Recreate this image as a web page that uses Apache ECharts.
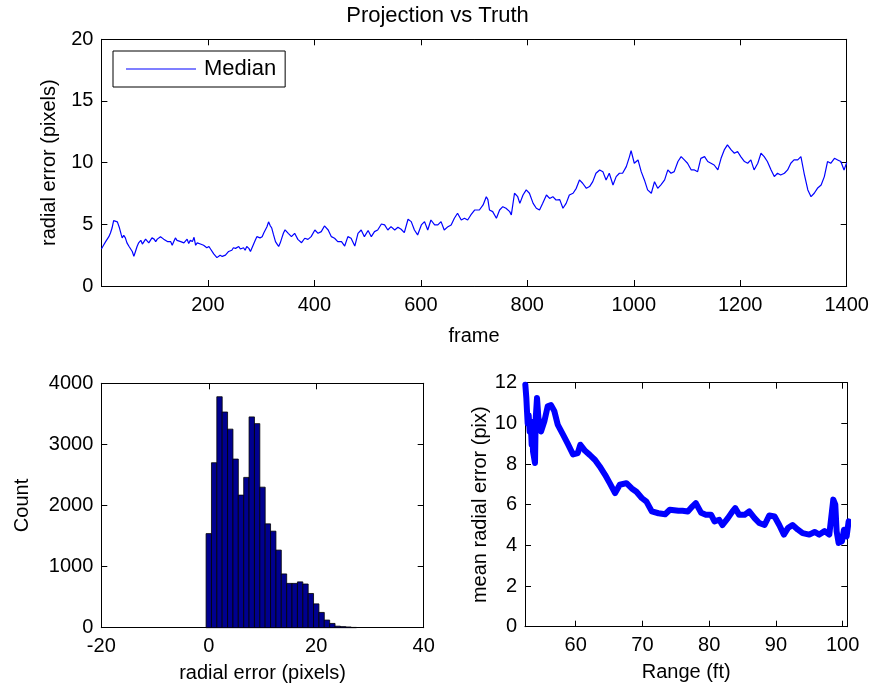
<!DOCTYPE html>
<html><head><meta charset="utf-8">
<script src="https://cdn.jsdelivr.net/npm/echarts@6/dist/echarts.min.js"></script>
<style>html,body{margin:0;padding:0;background:#fff}#c{width:875px;height:693px}</style>
</head><body><div id="c"></div>
<script>
const titleText = 'Projection vs Truth';
const legendName = 'Median';

// top: median radial error per frame
const medianFrames = [0,4,8,11,14,17,20,23,26,30,34,37,39,42,45,48,52,55,58,61,64,67,70,74,77,80,83,86,89,92,95,99,102,105,108,111,114,117,120,124,127,130,133,136,139,142,145,149,152,155,158,161,164,167,171,174,177,180,183,186,189,192,195,198,202,205,208,211,214,217,220,223,227,230,233,236,239,242,245,248,252,255,258,261,264,267,270,273,277,280,283,286,289,292,295,298,302,305,308,311,314,317,320,323,327,330,333,336,339,342,345,348,
351,357,363,369,376,382,388,394,401,407,413,419,426,432,438,444,451,457,463,469,476,482,488,494,501,507,513,519,526,532,538,544,551,557,563,569,576,582,588,594,601,607,613,619,626,632,638,644,651,657,663,669,676,682,688,694,701,
704,710,717,723,726,729,735,742,748,754,760,767,770,776,782,786,792,798,804,811,817,823,829,836,842,848,854,861,867,873,879,886,892,898,904,911,917,923,929,936,942,948,954,961,967,973,979,986,992,995,1001,1008,1014,1020,1026,1033,1039,
1045,1051,1058,1064,1070,1076,1083,1089,1095,1101,1108,1114,1120,1126,1133,1139,1145,1151,1158,1164,1170,1176,1183,1189,1195,1201,1208,1214,1220,1226,1233,1239,1245,1251,1258,1264,1270,1276,1283,1289,1295,1301,1308,1314,1320,1327,1333,1339,1345,1352,1358,1364,1370,1377,1383,1389,1395,1400];
const medianValues = [3.0,3.3,3.6,3.8,4.0,4.3,4.7,5.3,5.2,5.2,4.7,4.2,3.9,4.1,3.9,3.5,3.2,3.0,2.8,2.4,2.8,3.2,3.5,3.7,3.4,3.5,3.8,3.7,3.5,3.6,3.9,3.8,3.6,3.8,3.7,4.0,3.95,3.8,3.7,3.6,3.45,3.6,3.3,3.6,3.9,3.7,3.8,3.6,3.75,3.5,3.6,3.8,3.45,3.7,3.6,3.95,3.3,3.5,3.6,3.4,3.5,3.3,3.35,3.1,3.2,3.0,2.9,2.6,2.5,2.3,2.2,2.5,2.4,2.3,2.5,2.6,2.8,2.7,2.9,3.1,3.05,2.9,3.2,3.0,2.9,3.1,2.9,3.2,3.05,2.8,2.95,3.4,3.7,4.0,4.15,3.9,4.0,4.3,4.4,4.8,5.2,4.9,4.7,4.2,3.6,3.4,3.2,3.5,3.9,4.3,4.55,4.4,
4.27,4.0,4.27,3.78,3.51,3.87,3.78,4.0,4.54,4.27,4.41,4.87,4.54,4.0,3.87,3.6,3.6,3.24,4.0,3.87,3.24,4.27,4.54,4.0,4.5,4.0,4.41,4.54,5.03,4.95,4.54,4.81,4.54,4.76,4.6,4.32,5.41,5.22,4.54,4.14,4.95,5.22,4.54,5.35,4.95,4.95,5.22,4.54,4.81,4.95,5.49,5.9,5.35,5.49,5.35,5.76,6.16,
6.03,6.16,6.57,7.24,7.0,6.16,6.03,5.49,6.16,6.43,6.3,6.03,5.76,7.52,7.24,6.7,7.38,7.79,7.52,6.7,6.3,6.16,6.7,7.38,7.1,7.24,6.97,7.0,6.3,6.7,7.38,7.52,7.92,8.6,8.33,7.92,8.06,8.46,9.14,9.41,9.27,8.6,9.14,8.19,8.87,9.14,9.14,9.68,10.49,10.97,9.95,10.22,9.27,8.6,7.79,7.52,8.46,
7.92,8.2,8.6,9.41,9.14,9.27,10.09,10.49,10.22,9.95,9.41,9.41,9.27,10.35,10.49,10.09,9.95,9.81,9.41,10.35,11.03,11.44,11.03,10.76,10.9,10.49,10.09,9.95,10.22,9.41,9.95,10.76,10.49,10.09,9.41,8.87,9.14,9.0,9.14,9.41,9.95,10.22,10.22,10.49,9.14,7.79,7.24,7.52,7.92,8.19,8.87,10.09,9.95,10.35,10.22,10.09,9.41,10.0];

// bottom-left: histogram of radial error (bin centers, width 1)
const histCenters = [0,1,2,3,4,5,6,7,8,9,10,11,12,13,14,15,16,17,18,19,20,21,22,23,24,25,26,27];
const histCounts = [1540,2700,3780,3530,3250,2760,2170,2460,3450,3340,2300,1700,1580,1270,880,725,725,750,715,560,390,250,125,70,25,18,12,5];

// bottom-right: mean radial error vs range
const rangeFt = [52.45,52.6,52.7,52.8,52.95,53.1,53.25,53.4,53.5,53.6,53.9,54.0,54.2,54.4,54.8,55.3,55.8,56.3,56.8,57.3,58.1,58.8,59.6,60.3,60.7,61.4,62.1,62.9,63.6,64.4,65.1,65.9,66.6,67.6,68.4,69.1,69.9,70.6,71.4,72.4,73.4,74.1,75.4,76.0,76.8,77.5,78.0,78.8,79.5,80.3,80.8,81.5,82.0,82.8,83.5,83.9,84.5,85.3,86.0,86.8,87.5,88.3,89.0,89.8,90.5,91.2,91.8,92.5,93.3,94.0,95.0,95.8,96.5,97.3,98.0,98.4,98.6,98.9,99.1,99.4,99.9,100.2,100.6,100.9];
const meanErr = [11.9,11.25,10.6,10.0,10.4,9.6,10.1,8.95,9.77,8.62,8.05,10.2,11.25,10.3,9.6,10.1,10.84,10.9,10.6,9.94,9.45,9.0,8.47,8.54,8.95,8.65,8.45,8.2,7.88,7.47,7.06,6.57,6.98,7.06,6.8,6.64,6.33,6.15,5.67,5.58,5.53,5.75,5.7,5.7,5.67,5.92,6.08,5.6,5.5,5.5,5.18,5.26,5.0,5.34,5.67,5.83,5.5,5.5,5.67,5.34,5.1,5.0,5.47,5.42,5.0,4.53,4.85,5.0,4.77,4.6,4.53,4.66,4.53,4.7,4.53,5.67,6.25,6.0,4.7,4.12,4.2,4.77,4.44,5.18];

const FONT = "'Liberation Sans', Arial, Helvetica, sans-serif";
const BLACK = '#000';
const plain = v => String(v);

function xAx(gi, opt) {
  return Object.assign({
    type: 'value', gridIndex: gi, position: 'bottom',
    axisLine: {show: true, onZero: false, lineStyle: {color: BLACK, width: 1}},
    axisTick: {show: true, inside: true, length: 6, lineStyle: {color: BLACK}},
    axisLabel: {color: BLACK, fontSize: 20, fontFamily: FONT, margin: 9, formatter: plain},
    splitLine: {show: false},
    nameLocation: 'middle',
    nameTextStyle: {color: BLACK, fontSize: 20, fontFamily: FONT}
  }, opt);
}
function yAx(gi, opt) {
  return Object.assign({
    type: 'value', gridIndex: gi, position: 'left',
    axisLine: {show: true, onZero: false, lineStyle: {color: BLACK, width: 1}},
    axisTick: {show: true, inside: true, length: 6, lineStyle: {color: BLACK}},
    axisLabel: {color: BLACK, fontSize: 20, fontFamily: FONT, margin: 8, formatter: plain},
    splitLine: {show: false},
    nameLocation: 'middle',
    nameTextStyle: {color: BLACK, fontSize: 20, fontFamily: FONT}
  }, opt);
}
function mirrorX(gi, min, max, ticks, interval) {
  const o = xAx(gi, {position: 'top', min: min, max: max, axisLabel: {show: false}});
  if (interval) o.interval = interval;
  if (ticks) o.axisTick = Object.assign({}, o.axisTick, {customValues: ticks});
  return o;
}
function mirrorY(gi, min, max, interval) {
  return yAx(gi, {position: 'right', min: min, max: max, interval: interval, axisLabel: {show: false}});
}

const topTicks = [200,400,600,800,1000,1200,1400];
const rangeTicks = [60,70,80,90,100];

const chart = echarts.init(document.getElementById('c'), null, {renderer: 'canvas'});
chart.setOption({
  animation: false,
  backgroundColor: '#fff',
  title: {text: titleText, left: 'center', top: 0,
    textStyle: {fontSize: 22, fontWeight: 'normal', color: BLACK, fontFamily: FONT}},
  legend: {
    data: [{name: legendName, icon: 'rect'}], left: 113, top: 51,
    backgroundColor: '#fff', borderColor: BLACK, borderWidth: 1,
    padding: [7, 9, 7, 13], itemWidth: 70, itemHeight: 1.2,
    itemStyle: {color: '#0000ff', borderWidth: 0},
    textStyle: {fontSize: 22, color: BLACK, fontFamily: FONT, padding: [0,0,0,3]}
  },
  grid: [
    {left: 101.4, top: 39.3, width: 745.3, height: 246.7},
    {left: 101.3, top: 383.3, width: 322.4, height: 244.4},
    {left: 525, top: 382.7, width: 322.3, height: 244}
  ],
  xAxis: [
    xAx(0, {min: 0, max: 1400, name: 'frame', nameGap: 40,
      axisTick: {show: true, inside: true, length: 6, lineStyle: {color: BLACK}, customValues: topTicks},
      axisLabel: {color: BLACK, fontSize: 20, fontFamily: FONT, margin: 9, customValues: topTicks, formatter: plain}}),
    xAx(1, {min: -20, max: 40, interval: 20, name: 'radial error (pixels)', nameGap: 36}),
    xAx(2, {min: 52.4, max: 100.7, name: 'Range (ft)', nameGap: 36,
      axisTick: {show: true, inside: true, length: 6, lineStyle: {color: BLACK}, customValues: rangeTicks},
      axisLabel: {color: BLACK, fontSize: 20, fontFamily: FONT, margin: 9, customValues: rangeTicks, formatter: plain}}),
    mirrorX(0, 0, 1400, topTicks),
    mirrorX(1, -20, 40, null, 20),
    mirrorX(2, 52.4, 100.7, rangeTicks)
  ],
  yAxis: [
    yAx(0, {min: 0, max: 20, interval: 5, name: 'radial error (pixels)', nameGap: 42}),
    yAx(1, {min: 0, max: 4000, interval: 1000, name: 'Count', nameGap: 69}),
    yAx(2, {min: 0, max: 12, interval: 2, name: 'mean radial error (pix)', nameGap: 18}),
    mirrorY(0, 0, 20, 5),
    mirrorY(1, 0, 4000, 1000),
    mirrorY(2, 0, 12, 2)
  ],
  series: [
    {
      name: legendName, type: 'line', xAxisIndex: 0, yAxisIndex: 0,
      symbol: 'none', clip: true,
      lineStyle: {color: '#0000ff', width: 1.2},
      itemStyle: {color: '#0000ff'},
      data: medianFrames.map((f, i) => [f, medianValues[i]])
    },
    {
      name: 'hist', type: 'custom', xAxisIndex: 1, yAxisIndex: 1,
      data: histCenters.map((c, i) => [c, histCounts[i]]),
      renderItem: function (params, api) {
        const c = api.value(0), v = api.value(1);
        const p0 = api.coord([c - 0.5, 0]);
        const p1 = api.coord([c + 0.5, v]);
        return {
          type: 'rect',
          shape: {x: p0[0], y: p1[1], width: p1[0] - p0[0], height: p0[1] - p1[1]},
          style: {fill: '#00008f', stroke: '#000', lineWidth: 0.8}
        };
      }
    },
    {
      name: 'range', type: 'line', xAxisIndex: 2, yAxisIndex: 2,
      symbol: 'none', clip: true,
      lineStyle: {color: '#0000ff', width: 6, join: 'round', cap: 'round'},
      data: rangeFt.map((r, i) => [r, meanErr[i]])
    }
  ]
});
</script>
</body></html>
